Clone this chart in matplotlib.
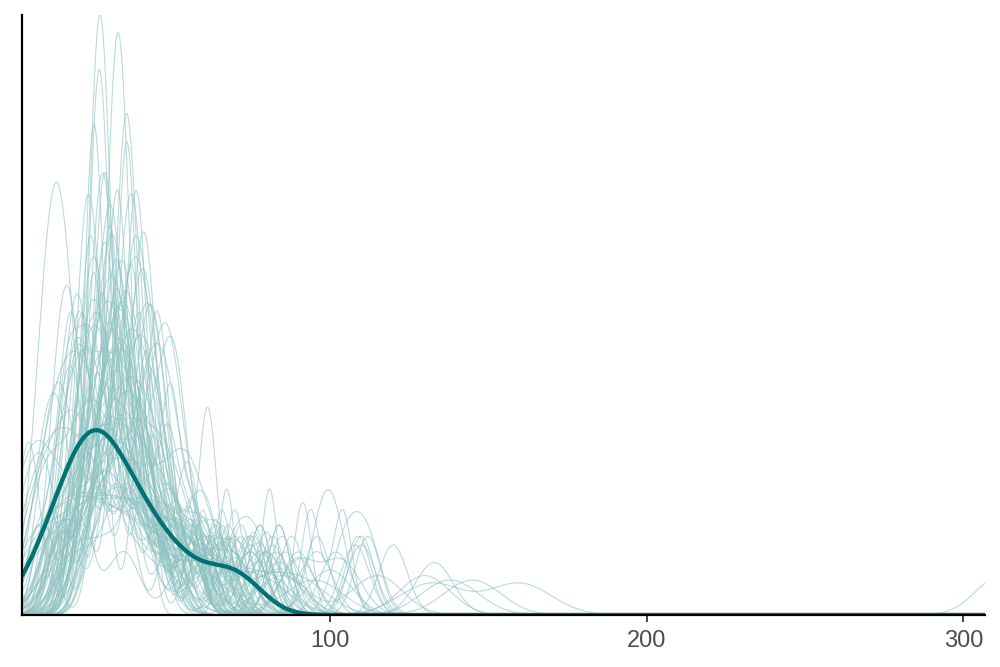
import numpy as np
import matplotlib
matplotlib.use("Agg")
import matplotlib.pyplot as plt

#---------------- data ----------------
# observed sample (dark line) and its kernel bandwidth
y_obs = [7, 13, 16, 19, 21, 23, 25, 26, 28, 30, 32, 35, 38, 41, 45, 50, 57, 67, 73]
y_bw = 8.0

# replicated samples (light lines), one bandwidth per replicate
yrep_bw = [3.3, 3.3, 3.2, 3.5, 3, 3.5, 5, 3.5, 3.5, 4,
           3.5, 4, 4, 5, 4.5, 6, 6, 7, 8, 9,
           4, 3, 2.5, 2.8, 3, 5, 4, 6, 10, 8,
           3.5, 4, 5, 3.5, 4, 4.5, 3, 6, 5.5, 4,
           3.5, 5, 6, 4, 7, 9, 3, 4.5, 5, 3.5,
           6, 5, 4, 8, 3.8, 4.2, 7, 5, 3.3, 4.5,
           6, 3, 5, 9, 4,
           4.5, 5, 4, 6, 5, 4.5, 5.5, 6, 4, 5,
           3.5, 7, 4.5, 5, 4, 6, 5.5, 3.8, 5, 4.5,
           6.5, 4, 5, 4.2, 7.5]
yrep = [
    [25, 26, 27, 27.5, 28, 29, 30, 38, 45, 56],
    [30.5, 31.5, 32.5, 33, 34, 35, 36, 19, 44, 58],
    [25, 26.5, 27, 27.5, 28.5, 29, 15, 38, 46, 60],
    [33.5, 35, 35.5, 36, 37, 38, 22, 45, 52, 78],
    [24, 25, 25.5, 26, 27.5, 12, 34, 41, 50, 66],
    [27.5, 28.5, 29, 29.5, 30.5, 20, 37, 43, 55, 72],
    [9, 11, 12.5, 13.5, 14, 15, 16.5, 19, 35, 55],
    [31, 32.5, 33, 33.5, 35, 18, 24, 44, 56, 84],
    [37, 38.5, 39, 39.5, 41, 15, 26, 30, 58, 78],
    [39.5, 41, 41.5, 42, 43.5, 22, 28, 33, 55, 96],
    [22.5, 23.5, 24.5, 25.5, 29, 10, 36, 50, 66, 84],
    [16.5, 18, 19, 20, 8, 30, 35, 45, 62, 75],
    [38, 39.5, 40.5, 42, 14, 26, 31, 52, 68, 112],
    [41, 42.5, 43.5, 45, 20, 30, 55, 62, 80, 96],
    [29, 30, 31, 32, 18, 22, 40, 47, 75, 110],
    [20, 22, 24, 26, 28, 30, 34, 45, 58, 133],
    [10, 16, 21, 26, 30, 33, 38, 44, 52, 70],
    [6, 14, 22, 28, 35, 42, 48, 56, 66, 85],
    [5, 12, 20, 25, 32, 40, 50, 62, 80, 130],
    [8, 18, 24, 30, 36, 44, 52, 60, 78, 138],
    [35, 37, 38, 40, 41, 44, 50, 28, 22, 58],
    [61, 62, 23, 26, 29, 33, 36, 40, 45, 52],
    [67.5, 81, 20, 24, 27, 30, 33, 35, 38, 42],
    [91.5, 18, 22, 27, 31, 36, 40, 44, 50, 57],
    [94, 104, 20, 26, 29, 32, 35, 39, 46, 60],
    [100, 99, 28, 31, 33, 36, 38, 42, 48, 24],
    [109, 85, 30, 32, 35, 37, 39, 43, 27, 55],
    [55, 58, 52, 20, 25, 30, 35, 40, 45, 70],
    [132, 160, 30, 35, 40, 45, 25, 20, 33, 28],
    [312, 20, 24, 28, 30, 33, 36, 40, 46, 55],
    [4, 6, 20, 23, 25, 27, 30, 33, 38, 45],
    [3, 8, 12, 28, 30, 32, 34, 36, 50, 65],
    [5, 10, 15, 18, 22, 25, 35, 40, 58, 75],
    [21, 22, 23, 32, 33, 34, 44, 45, 56, 62],
    [26, 27, 28, 29, 36, 37, 38, 15, 50, 88],
    [30, 31.5, 33, 34, 35, 12, 20, 46, 54, 66],
    [17, 19, 22, 25, 28, 31, 34, 37, 41, 48],
    [22, 25, 27, 29, 31, 33, 35, 38, 60, 78],
    [14, 18, 26, 29, 31, 33, 36, 40, 44, 90],
    [35, 36, 38, 40, 42, 45, 48, 25, 30, 60],
    [24, 25, 26, 27, 41, 42, 43, 8, 52, 64],
    [19, 20, 21, 22, 23, 36, 38, 52, 64, 102],
    [28, 30, 32, 34, 36, 37, 39, 16, 62, 84],
    [44, 45, 46, 47, 30, 31, 22, 12, 58, 76],
    [18, 22, 26, 30, 34, 38, 42, 46, 50, 54],
    [10, 15, 20, 28, 34, 40, 48, 56, 72, 90],
    [29, 30, 31, 32.5, 20, 38, 44, 50, 50, 57],
    [33, 34, 35, 36, 37, 24, 27, 48, 105, 112],
    [23, 24, 25, 26, 27, 28, 40, 44, 70, 77],
    [36, 37, 38, 39, 28, 29, 48, 49, 56, 10],
    [3, 5, 9, 14, 20, 27, 34, 42, 52, 65],
    [7, 11, 16, 21, 24, 27, 31, 36, 47, 83],
    [27, 28, 29, 30, 31, 42, 43, 18, 56, 82],
    [24, 28, 30, 32, 34, 36, 40, 45, 85, 115],
    [31, 32, 33, 34, 26, 40, 41, 50, 64, 80],
    [20, 21, 22, 23, 30, 34, 37, 44, 58, 66],
    [30, 33, 35, 37, 39, 41, 43, 47, 20, 100],
    [38, 40, 42, 44, 46, 48, 28, 32, 62, 72],
    [26, 27.5, 28.5, 29.5, 31, 36, 22, 46, 52, 64],
    [15, 17, 19, 21, 32, 34, 36, 46, 60, 120],
    [35, 37, 39, 41, 43, 45, 25, 52, 90, 104],
    [34, 35, 36, 37, 38, 24, 27, 48, 56, 70],
    [25, 26, 30, 31, 35, 36, 41, 14, 56, 75],
    [30, 32, 34, 36, 38, 40, 42, 60, 95, 145],
    [22, 24, 26, 38, 40, 42, 54, 56, 72, 110],
    [14, 16, 17, 18, 19, 28, 34, 40, 52, 66],
    [11, 13, 15, 17, 26, 30, 36, 44, 58, 80],
    [19, 20, 22, 23, 15, 33, 38, 47, 55, 74],
    [12, 16, 20, 22, 24, 26, 30, 35, 48, 62],
    [45, 47, 48, 50, 52, 30, 34, 38, 62, 25],
    [48, 50, 51, 53, 40, 42, 30, 26, 66, 78],
    [42, 44, 46, 48, 50, 36, 32, 58, 20, 70],
    [8, 12, 15, 18, 20, 23, 26, 29, 40, 55],
    [16, 17, 18, 24, 25, 26, 32, 36, 45, 60],
    [27, 29, 30, 31, 33, 34, 36, 18, 50, 63],
    [21, 22.5, 23.5, 24.5, 26, 30, 35, 41, 52, 68],
    [14, 20, 24, 28, 32, 36, 40, 44, 50, 58],
    [32, 33, 35, 37, 38, 44, 46, 22, 56, 82],
    [20, 23, 25, 27, 29, 31, 38, 46, 12, 90],
    [38, 40, 41, 43, 45, 30, 33, 52, 17, 64],
    [4, 9, 13, 17, 21, 25, 32, 38, 46, 60],
    [24, 26, 28, 30, 32, 34, 36, 38, 48, 70],
    [28, 29, 30, 31, 34, 35, 22, 44, 58, 76],
    [17, 19, 21, 23, 25, 38, 40, 42, 55, 86],
    [40, 42, 44, 45, 47, 26, 28, 33, 60, 108],
    [26, 30, 33, 36, 39, 42, 45, 50, 14, 66],
    [33, 34, 35, 25, 27, 42, 43, 50, 15, 70],
    [9, 12, 14, 16, 30, 33, 37, 45, 62, 78],
    [35, 36, 37, 38, 39, 40, 20, 28, 55, 68],
    [16, 22, 26, 30, 34, 38, 44, 52, 64, 84],
]

x_range = (2.9, 306.8)
x_ticks = [100, 200, 300]

#---------------- density helper ----------------
grid = np.linspace(x_range[0], x_range[1], 1500)

def kde(values, bw):
    v = np.asarray(values, dtype=float)
    z = (grid[:, None] - v[None, :]) / bw
    return np.exp(-0.5 * z ** 2).sum(axis=1) / (len(v) * bw * np.sqrt(2 * np.pi))

#---------------- plot ----------------
plt.rcParams['font.family'] = ['Liberation Sans', 'DejaVu Sans']
fig = plt.figure(figsize=(10, 6.67), dpi=100)
ax = fig.add_axes([0.022, 0.078, 0.963, 0.8996])

ymax = 0
for vals, bw in zip(yrep, yrep_bw):
    d = kde(vals, bw)
    ymax = max(ymax, d.max())
    ax.plot(grid, d, color="#8fc2c2", alpha=0.6, lw=0.8)

d_obs = kde(y_obs, y_bw)
ax.plot(grid, d_obs, color="#007272", lw=3.1, solid_capstyle="round")

ax.set_xlim(*x_range)
ax.set_ylim(0, ymax)
ax.set_xticks(x_ticks)
ax.set_yticks([])
for s in ["top", "right"]:
    ax.spines[s].set_visible(False)
for s in ["left", "bottom"]:
    ax.spines[s].set_linewidth(1.6)
    ax.spines[s].set_color("black")
ax.tick_params(axis="x", length=5, width=1.3, color="#333333",
               labelsize=17, labelcolor="#4d4d4d", pad=6)

fig.savefig("out.png", dpi=100)
